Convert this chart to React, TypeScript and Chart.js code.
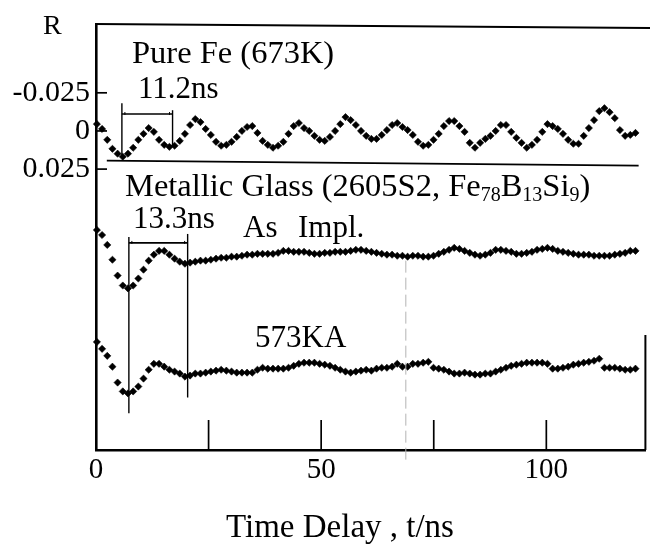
import { useEffect, useRef } from 'react';
import { Chart, registerables } from 'chart.js';

Chart.register(...registerables);

// ---- data ----
// time channels: uniform spacing of the delay spectrometer
const CHANNEL_NS = 1.15;
const T_START = 0.2;

// Pure Fe (673K), R values
const PURE_FE = [
  -0.0045, -0.0013, 0.0058, 0.0117, 0.0149, 0.0169, 0.0149, 0.011, 0.0058, 0.0019,
  -0.0019, 0.0006, 0.0058, 0.0091, 0.0104, 0.0097, 0.0065, 0.0019, -0.0039, -0.0078,
  -0.0058, -0.0013, 0.0026, 0.0071, 0.0097, 0.0091, 0.0071, 0.0039, 0, -0.0026,
  -0.0032, 0.0013, 0.0065, 0.0091, 0.011, 0.0097, 0.0071, 0.0019, -0.0032, -0.0052,
  -0.0019, 0, 0.0032, 0.0058, 0.0065, 0.0039, 0, -0.0045, -0.0091, -0.0071,
  -0.0039, 0, 0.0032, 0.0052, 0.0052, 0.0026, -0.0006, -0.0039, -0.0052, -0.0026,
  -0.0006, 0.0026, 0.0071, 0.0097, 0.0091, 0.0058, 0.0019, -0.0032, -0.0065, -0.0065,
  -0.0032, 0.0006, 0.0078, 0.011, 0.0078, 0.0052, 0.0032, 0, -0.0039, -0.0039,
  0.0006, 0.0045, 0.0078, 0.011, 0.0091, 0.0058, 0.0006, -0.0045, -0.0032, -0.0013,
  0.0019, 0.0058, 0.0084, 0.0084, 0.0032, -0.0019, -0.0071, -0.013, -0.0149, -0.0123,
  -0.0084, -0.0006, 0.0032, 0.0026, 0.0013,
];

// Metallic glass, as implanted (R, shown shifted by AS_IMPL_OFFSET)
const AS_IMPL = [
  -0.0156, -0.0123, -0.0058, 0.0039, 0.0143, 0.0208, 0.0227, 0.0208, 0.0162, 0.0104,
  0.0045, 0.0006, -0.0019, -0.0019, 0.0006, 0.0032, 0.0052, 0.0065, 0.0058, 0.0052,
  0.0045, 0.0045, 0.0039, 0.0032, 0.0026, 0.0026, 0.0019, 0.0019, 0.0013, 0.0006,
  0.0006, 0, 0, 0, 0, -0.0006, -0.0019, -0.0019, -0.0013, -0.0013,
  -0.0013, -0.0006, 0, 0, -0.0006, -0.0006, -0.0013, -0.0013, -0.0013, -0.0019,
  -0.0026, -0.0026, -0.0019, -0.0013, -0.0006, 0, 0.0006, 0.0006, 0.0013, 0.0013,
  0.0019, 0.0013, 0.0013, 0.0019, 0.0019, 0.0013, 0, -0.0013, -0.0026, -0.0039,
  -0.0032, -0.0019, -0.0006, 0.0006, 0.0013, 0.0006, -0.0006, -0.0026, -0.0026, -0.0019,
  -0.0013, 0, 0, -0.0006, -0.0013, -0.0026, -0.0032, -0.0039, -0.0032, -0.0019,
  -0.0013, -0.0006, 0, 0.0006, 0.0006, 0.0006, 0.0013, 0.0013, 0.0013, 0.0013,
  0.0006, 0, -0.0006, -0.0019, -0.0019,
];

// Metallic glass, 573K annealed (R, shown shifted by KA573_OFFSET)
const KA573 = [
  -0.0188, -0.0143, -0.0097, -0.0026, 0.0078, 0.0136, 0.0149, 0.0136, 0.0104, 0.0052,
  -0.0006, -0.0045, -0.0045, -0.0026, -0.0006, 0.0006, 0.0019, 0.0039, 0.0032, 0.0019,
  0.0019, 0.0013, 0.0006, 0, -0.0006, 0, 0.0006, 0.0013, 0.0013, 0.0013,
  0.0013, -0.0006, -0.0019, -0.0013, -0.0013, -0.0013, -0.0013, -0.0019, -0.0032, -0.0045,
  -0.0052, -0.0052, -0.0052, -0.0045, -0.0039, -0.0032, -0.0019, -0.0006, 0.0006, 0.0013,
  0.0006, 0, -0.0006, 0, -0.0013, -0.0019, -0.0019, -0.0026, -0.0045, -0.0026,
  -0.0026, -0.0045, -0.0045, -0.0052, -0.0058, -0.0019, -0.0013, -0.0006, 0.0006, 0.0019,
  0.0019, 0.0013, 0.0019, 0.0026, 0.0026, 0.0019, 0.0019, 0.0006, -0.0006, -0.0019,
  -0.0032, -0.0039, -0.0045, -0.0052, -0.0052, -0.0052, -0.0052, -0.0045, -0.0013, -0.0013,
  -0.0019, -0.0026, -0.0039, -0.0045, -0.0052, -0.0058, -0.0065, -0.0078, -0.0019, -0.0019,
  -0.0019, -0.0013, -0.0006, -0.0006, -0.0013,
];

const AS_IMPL_OFFSET = 0.0805;
const KA573_OFFSET = 0.1571;

const X_TICKS = [0, 25, 50, 75, 100];
const X_TICK_LABELS = ['0', '', '50', '', '100'];
const Y_TICKS = [-0.025, 0, 0.025];
const Y_TICK_LABELS = ['-0.025', '0', '0.025'];
const X_MIN = 0;
const X_MAX = 122;
const Y_MIN = -0.0701;
const Y_MAX = 0.2091;

// period markers (time in ns, R in axis units)
const FE_PERIOD = { t1: 5.75, t2: 17.0, bar: -0.0111, top1: -0.0182, bot1: 0.0175, top2: -0.0136, bot2: 0.0097 };
const MG_PERIOD = { t1: 7.3, t2: 20.35, bar: 0.0734, top1: 0.0695, bot1: 0.185, top2: 0.0675, bot2: 0.1747 };
const SEPARATOR = { t1: 2.4, t2: 120.5, r1: 0.0195, r2: 0.0227 };
const SCAN_LINE_T = 68.8;

const SERIF = '"Liberation Serif", "DejaVu Serif", "Times New Roman", serif';

type Part = [string, boolean];

function drawRich(ctx: CanvasRenderingContext2D, x: number, y: number, parts: Part[], size: number) {
  let cx = x;
  for (const [txt, sub] of parts) {
    ctx.font = `${sub ? Math.round(size * 0.62) : size}px ${SERIF}`;
    ctx.fillText(txt, cx, sub ? y + 5 : y);
    cx += ctx.measureText(txt).width;
  }
}

const decor = {
  id: 'decor',
  afterDatasetsDraw(chart: any) {
    const { ctx, chartArea: a, scales } = chart;
    const x = scales.x;
    const y = scales.y;
    const line = (x1: number, y1: number, x2: number, y2: number, w: number, c = '#000') => {
      ctx.beginPath();
      ctx.strokeStyle = c;
      ctx.lineWidth = w;
      ctx.moveTo(x1, y1);
      ctx.lineTo(x2, y2);
      ctx.stroke();
    };
    ctx.save();
    // faint scanning line
    ctx.setLineDash([12, 5]);
    line(x.getPixelForValue(SCAN_LINE_T), y.getPixelForValue(0.085), x.getPixelForValue(SCAN_LINE_T), a.bottom + 10, 1, '#b4b4b4');
    ctx.setLineDash([]);
    // frame: top and partial right border
    line(a.left - 1, a.top, 650, a.top + 4, 1.8);
    line(a.right, a.bottom - 115, a.right, a.bottom, 2);
    // inward tick marks
    X_TICKS.filter((v) => v > 0).forEach((v) => {
      const px = x.getPixelForValue(v);
      line(px, a.bottom, px, a.bottom - 30, 1.7);
    });
    Y_TICKS.forEach((v) => {
      const py = y.getPixelForValue(v);
      line(a.left, py, a.left + 11, py, 1.7);
    });
    // separator between panels
    line(x.getPixelForValue(SEPARATOR.t1), y.getPixelForValue(SEPARATOR.r1), x.getPixelForValue(SEPARATOR.t2), y.getPixelForValue(SEPARATOR.r2), 1.7);
    // period markers
    for (const p of [FE_PERIOD, MG_PERIOD]) {
      const x1 = x.getPixelForValue(p.t1);
      const x2 = x.getPixelForValue(p.t2);
      line(x1, y.getPixelForValue(p.top1), x1, y.getPixelForValue(p.bot1), 1.4);
      line(x2, y.getPixelForValue(p.top2), x2, y.getPixelForValue(p.bot2), 1.4);
      const yb = y.getPixelForValue(p.bar);
      line(x1, yb, x2, yb, 1.7);
      line(x1 + 3, yb - 2, x1 + 3, yb + 1, 1);
      line(x2 - 3, yb - 2, x2 - 3, yb + 1, 1);
    }
    // texts
    ctx.fillStyle = '#000';
    ctx.textAlign = 'left';
    ctx.textBaseline = 'alphabetic';
    ctx.font = `28px ${SERIF}`;
    ctx.fillText('R', 43, 34);
    ctx.font = `32.5px ${SERIF}`;
    ctx.fillText('Pure Fe (673K)', 132, 63);
    drawRich(ctx, 125, 196, [
      ['Metallic Glass (2605S2, Fe', false], ['78', true], ['B', false], ['13', true], ['Si', false], ['9', true], [')', false],
    ], 32.5);
    ctx.font = `31px ${SERIF}`;
    ctx.fillText('11.2ns', 138, 98);
    ctx.fillText('13.3ns', 133, 228);
    ctx.fillText('As', 243, 237);
    ctx.fillText('Impl.', 298, 237);
    ctx.fillText('573KA', 255, 347);
    ctx.font = `33px ${SERIF}`;
    ctx.fillText('Time Delay , t/ns', 226, 537);
    ctx.restore();
  },
};

function series(values: number[], offset: number) {
  return values.map((r, i) => ({ x: T_START + i * CHANNEL_NS, y: r + offset }));
}

export default function App() {
  const ref = useRef<HTMLCanvasElement | null>(null);
  useEffect(() => {
    if (!ref.current) return;
    const pointStyle = {
      showLine: false,
      pointStyle: 'rectRot',
      pointRadius: 3.6,
      pointBorderWidth: 0.6,
      backgroundColor: '#000',
      borderColor: '#000',
      clip: false,
    };
    const xFont = { family: SERIF, size: 29 };
    const yFont = { family: SERIF, size: 30 };
    const chart = new Chart(ref.current, {
      type: 'scatter',
      data: {
        datasets: [
          { label: 'Pure Fe (673K)', data: series(PURE_FE, 0), ...pointStyle },
          { label: 'As Impl.', data: series(AS_IMPL, AS_IMPL_OFFSET), ...pointStyle },
          { label: '573KA', data: series(KA573, KA573_OFFSET), ...pointStyle },
        ] as any,
      },
      options: {
        responsive: false,
        animation: false,
        layout: { padding: { left: 0, right: 2, top: 20, bottom: 0 } },
        plugins: { legend: { display: false }, tooltip: { enabled: false } },
        scales: {
          x: {
            type: 'linear',
            min: X_MIN,
            max: X_MAX,
            afterBuildTicks: (s: any) => {
              s.ticks = X_TICKS.map((v) => ({ value: v }));
            },
            afterFit: (s: any) => {
              s.height = 95;
            },
            grid: { display: false, drawTicks: false },
            border: { display: true, width: 2.6, color: '#000' },
            ticks: {
              font: xFont,
              color: '#000',
              padding: 3,
              maxRotation: 0,
              autoSkip: false,
              callback: (_v: any, i: number) => X_TICK_LABELS[i],
            },
          },
          y: {
            type: 'linear',
            reverse: true,
            min: Y_MIN,
            max: Y_MAX,
            afterBuildTicks: (s: any) => {
              s.ticks = Y_TICKS.map((v) => ({ value: v }));
            },
            afterFit: (s: any) => {
              s.width = 96;
            },
            grid: { display: false, drawTicks: false },
            border: { display: true, width: 2.6, color: '#000' },
            ticks: {
              font: yFont,
              color: '#000',
              padding: 6,
              autoSkip: false,
              callback: (_v: any, i: number) => Y_TICK_LABELS[i],
            },
          },
        },
      } as any,
      plugins: [decor],
    });
    return () => chart.destroy();
  }, []);
  return (
    <div style={{ position: 'fixed', left: 0, top: 0, width: 650, height: 545, background: '#fff' }}>
      <canvas ref={ref} width={650} height={545} />
    </div>
  );
}
